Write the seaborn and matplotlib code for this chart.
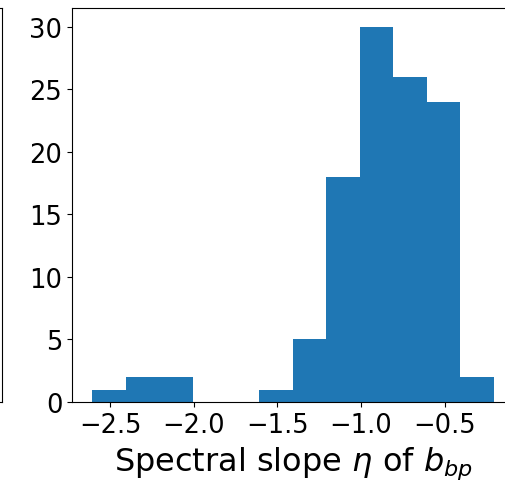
import matplotlib
matplotlib.use("Agg")
import matplotlib.pyplot as plt
import seaborn as sns
import numpy as np

# Histogram data
bin_edges = [-2.607, -2.407, -2.207, -2.007, -1.807, -1.607, -1.407,
             -1.207, -1.007, -0.807, -0.607, -0.407, -0.207]
counts = [1, 2, 2, 0, 0, 1, 5, 18, 30, 26, 24, 2]
xticks = [-2.5, -2.0, -1.5, -1.0, -0.5]
yticks = [0, 5, 10, 15, 20, 25, 30]
xlabel = r"Spectral slope $\eta$ of $b_{bp}$"

centers = [(bin_edges[i] + bin_edges[i + 1]) / 2 for i in range(len(counts))]

fig = plt.figure(figsize=(5.05, 4.85), dpi=100)

# neighbouring panel (only its right spine is visible)
axn = fig.add_axes([-0.5, 0.169, 0.504, 0.8124])
axn.set_xticks([])
axn.set_yticks([])

ax = fig.add_axes([0.1426, 0.169, 0.875, 0.8124])
sns.histplot(x=centers, weights=counts, bins=bin_edges, ax=ax,
             color="#1f77b4", alpha=1, linewidth=0, edgecolor="none")
ax.margins(x=0.05, y=0.05)
ax.autoscale()
ax.set_xticks(xticks)
ax.set_xticklabels([f"{t:.1f}".replace("-", "\u2212") for t in xticks])
ax.set_yticks(yticks)
ax.set_ylabel("")
ax.set_xlabel(xlabel, fontsize=23, labelpad=5)
ax.tick_params(labelsize=18.5)

fig.savefig("out.png", dpi=100)
